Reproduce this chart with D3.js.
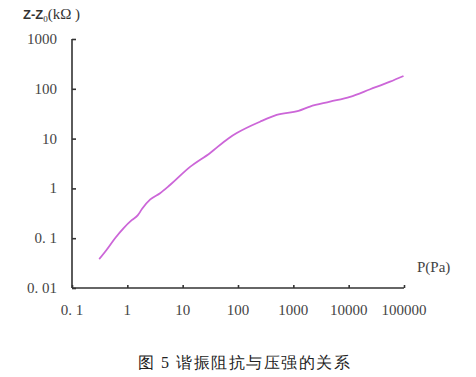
<!DOCTYPE html>
<html lang="zh">
<head>
  <meta charset="UTF-8">
  <title>谐振阻抗与压强的关系</title>
  <script src="https://d3js.org/d3.v7.min.js"></script>
  <style>
    body { margin: 0; background: #fff; }
    svg text { font-family: "Liberation Serif", "DejaVu Serif", serif; }
  </style>
</head>
<body>
  <div id="chart"></div>
  <script>
    // Pressure (Pa) and impedance Z-Z0 (kOhm)
    const pressure = [0.31, 0.42, 0.60, 0.85, 1.2, 1.55, 1.85, 2.6, 3.9, 5.9,
      13.6, 31, 67, 95, 250, 500, 1240, 2000, 4600, 10600, 24500, 56000, 98000];
    const impedance = [0.038, 0.058, 0.10, 0.158, 0.23, 0.29, 0.39, 0.60, 0.80, 1.17,
      2.7, 5.1, 10.1, 12.9, 21.8, 29.8, 36, 44, 55, 69, 98, 139, 181];

    const xTicks = [0.1, 1, 10, 100, 1000, 10000, 100000];
    const xTickLabels = ["0. 1", "1", "10", "100", "1000", "10000", "100000"];
    const yTicks = [0.01, 0.1, 1, 10, 100, 1000];
    const yTickLabels = ["0. 01", "0. 1", "1", "10", "100", "1000"];

    const width = 476, height = 377;
    const svg = d3.select("#chart").append("svg")
      .attr("width", width)
      .attr("height", height);

    // Scales (log on both axes)
    const x = d3.scaleLog().domain([0.1, 100000]).range([72, 404]);
    const y = d3.scaleLog().domain([0.01, 1000]).range([288, 39]);

    // Y axis, ticks point inward
    const yAxis = svg.append("g")
      .attr("transform", `translate(${x(0.1)},0)`)
      .call(d3.axisRight(y).tickValues(yTicks).tickSize(4).tickFormat(""));
    yAxis.select(".domain").attr("d", `M0,${y(1000)}V${y(0.01)}`);

    // X axis, ticks point up
    const xAxis = svg.append("g")
      .attr("transform", `translate(0,${y(0.01)})`)
      .call(d3.axisTop(x).tickValues(xTicks).tickSize(3).tickFormat(""));
    xAxis.select(".domain").attr("d", `M${x(0.1)},0H${x(100000)}`);

    svg.selectAll(".domain, .tick line")
      .attr("stroke", "#333")
      .attr("stroke-width", 1.6);

    // Tick labels
    svg.append("g").selectAll("text")
      .data(yTicks)
      .join("text")
      .attr("x", 57)
      .attr("y", d => y(d) + 5)
      .attr("text-anchor", "end")
      .attr("font-size", 15)
      .attr("fill", "#444")
      .text((d, i) => yTickLabels[i]);

    svg.append("g").selectAll("text")
      .data(xTicks)
      .join("text")
      .attr("x", d => x(d))
      .attr("y", 315)
      .attr("text-anchor", "middle")
      .attr("font-size", 15)
      .attr("fill", "#444")
      .text((d, i) => xTickLabels[i]);

    // Axis titles
    const yTitle = svg.append("text")
      .attr("x", 23)
      .attr("y", 19)
      .attr("fill", "#333");
    yTitle.append("tspan")
      .attr("font-family", "Liberation Sans, Arial, sans-serif")
      .attr("font-weight", "bold")
      .attr("font-size", 13)
      .text("Z-Z");
    yTitle.append("tspan")
      .attr("font-size", 9)
      .attr("dy", 3)
      .text("0");
    yTitle.append("tspan")
      .attr("font-size", 15)
      .attr("dy", -3)
      .text("(kΩ )");

    svg.append("text")
      .attr("x", 417)
      .attr("y", 272)
      .attr("font-size", 15)
      .attr("fill", "#444")
      .text("P(Pa)");

    // Curve
    const line = d3.line()
      .x((d, i) => x(pressure[i]))
      .y(d => y(d))
      .curve(d3.curveMonotoneX);

    svg.append("path")
      .datum(impedance)
      .attr("fill", "none")
      .attr("stroke", "#cc66d8")
      .attr("stroke-width", 1.8)
      .attr("d", line);

    // Caption
    svg.append("text")
      .attr("x", 138)
      .attr("y", 368)
      .attr("font-family", "Noto Sans CJK SC, sans-serif")
      .attr("font-size", 16)
      .attr("fill", "#222")
      .attr("textLength", 212)
      .text("图 5 谐振阻抗与压强的关系");
  </script>
</body>
</html>
